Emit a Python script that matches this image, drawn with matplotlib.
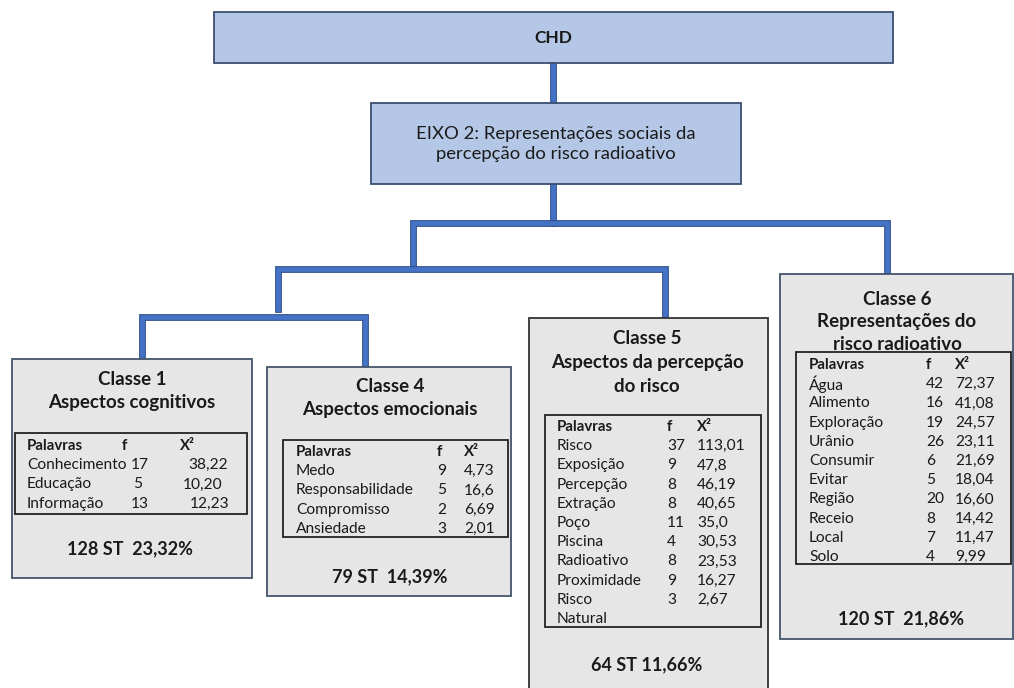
import matplotlib
matplotlib.use("Agg")
import matplotlib.pyplot as plt
from matplotlib.patches import Rectangle
import matplotlib.patheffects as pe

plt.rcParams['font.family'] = ['Lato', 'DejaVu Sans']

# ---------------- data ----------------
root_label = "CHD"
axis_label = "EIXO 2: Representações sociais da\npercepção do risco radioativo"

class1_title = ["Classe 1", "Aspectos cognitivos"]
class1_words = ["Conhecimento", "Educação", "Informação"]
class1_f = ["17", "5", "13"]
class1_chi2 = ["38,22", "10,20", "12,23"]
class1_st = "128 ST  23,32%"

class4_title = ["Classe 4", "Aspectos emocionais"]
class4_words = ["Medo", "Responsabilidade", "Compromisso", "Ansiedade"]
class4_f = ["9", "5", "2", "3"]
class4_chi2 = ["4,73", "16,6", "6,69", "2,01"]
class4_st = "79 ST  14,39%"

class5_title = ["Classe 5", "Aspectos da percepção", "do risco"]
class5_words = ["Risco", "Exposição", "Percepção", "Extração", "Poço", "Piscina",
                "Radioativo", "Proximidade", "Risco", "Natural"]
class5_f = ["37", "9", "8", "8", "11", "4", "8", "9", "3", ""]
class5_chi2 = ["113,01", "47,8", "46,19", "40,65", "35,0", "30,53", "23,53",
               "16,27", "2,67", ""]
class5_st = "64 ST 11,66%"

class6_title = ["Classe 6", "Representações do", "risco radioativo"]
class6_words = ["Água", "Alimento", "Exploração", "Urânio", "Consumir", "Evitar",
                "Região", "Receio", "Local", "Solo"]
class6_f = ["42", "16", "19", "26", "6", "5", "20", "8", "7", "4"]
class6_chi2 = ["72,37", "41,08", "24,57", "23,11", "21,69", "18,04", "16,60",
               "14,42", "11,47", "9,99"]
class6_st = "120 ST  21,86%"

header = ["Palavras", "f", "X²"]

# ---------------- figure ----------------
W, H = 1014, 688
fig = plt.figure(figsize=(W / 100, H / 100), dpi=100)
ax = fig.add_axes([0, 0, 1, 1])
ax.set_xlim(0, W)
ax.set_ylim(H, 0)
ax.axis('off')

BLUE_FILL = '#B4C7E7'
BLUE_EDGE = '#3B4E72'
GRAY_FILL = '#E6E6E6'
CONN = '#4472C4'
CONN_EDGE = '#2F528F'
TXT = '#1A1A1A'


def box(x0, y0, x1, y1, fc, ec, lw=1.3, z=2):
    ax.add_patch(Rectangle((x0, y0), x1 - x0, y1 - y0, facecolor=fc,
                           edgecolor=ec, linewidth=lw, zorder=z))


def conn(xs, ys):
    ax.plot(xs, ys, color=CONN, linewidth=3.4, solid_capstyle='projecting',
            solid_joinstyle='miter', zorder=1,
            path_effects=[pe.Stroke(linewidth=4.9, foreground=CONN_EDGE),
                          pe.Normal()])


# connectors (dendrogram)
conn([553, 553], [63, 103])
conn([553, 553], [184, 223])
conn([413, 413, 887, 887], [264, 223, 223, 274])
conn([278, 278, 665, 665], [309, 269, 269, 317])
conn([142, 142, 365, 365], [358, 317, 317, 367])

# top boxes
box(214, 12, 893, 63, BLUE_FILL, BLUE_EDGE)
ax.text(553, 38, root_label, ha='center', va='center', fontsize=12.5,
        fontweight='bold', color=TXT, zorder=3)
box(371, 103, 741, 184, BLUE_FILL, BLUE_EDGE)
ax.text(556, 144, axis_label, ha='center', va='center', fontsize=13.3,
        color=TXT, linespacing=1.25, zorder=3)


def class_box(rect, title, title_base, title_step, title_cx, table, cols,
              header_y, words, fvals, chi, st, st_cx, st_y, ec, align=None):
    x0, y0, x1, y1 = rect
    box(x0, y0, x1, y1, GRAY_FILL, ec)
    for i, line in enumerate(title):
        ax.text(title_cx, title_base + title_step * i, line, ha='center',
                va='baseline', fontsize=13.5, fontweight='bold', color=TXT,
                zorder=3)
    tx0, ty0, tx1, ty1 = table
    box(tx0, ty0, tx1, ty1, 'none', '#222222', lw=1.3, z=3)
    cw, cf, cc = cols
    step = 19.2
    for hx, h in zip((cw, cf, cc), header):
        ax.text(hx, header_y, h, ha='left', va='center', fontsize=10.8,
                fontweight='bold', color=TXT, zorder=4)
    for i, (w, f, c) in enumerate(zip(words, fvals, chi)):
        y = header_y + step * (i + 1)
        ax.text(cw, y, w, ha='left', va='center', fontsize=11.2, color=TXT,
                zorder=4)
        fx = cf if align is None else align[0][i]
        chx = cc if align is None else align[1][i]
        ax.text(fx, y, f, ha='left', va='center', fontsize=11.2, color=TXT,
                zorder=4)
        ax.text(chx, y, c, ha='left', va='center', fontsize=11.2, color=TXT,
                zorder=4)
    ax.text(st_cx, st_y, st, ha='center', va='center', fontsize=13,
            fontweight='bold', color=TXT, zorder=3)


class_box((12, 359, 252, 578), class1_title, 385, 23.3, 132,
          (15, 433, 247, 514), (27, 122, 180), 446, class1_words, class1_f,
          class1_chi2, class1_st, 130, 549, '#44546A',
          align=([131, 133, 131], [188, 183, 190]))
class_box((267, 367, 511, 596), class4_title, 392, 23.5, 390,
          (283, 440, 508, 537), (296, 437, 464), 452, class4_words, class4_f,
          class4_chi2, class4_st, 390, 577, '#44546A')
class_box((529, 318, 768, 700), class5_title, 344, 23.8, 647,
          (545, 415, 761, 627), (557, 667, 697), 427, class5_words, class5_f,
          class5_chi2, class5_st, 647, 665, '#333333')
class_box((780, 274, 1013, 639), class6_title, 305, 22.3, 897,
          (796, 352, 1011, 564), (809, 926, 955), 365, class6_words, class6_f,
          class6_chi2, class6_st, 901, 619, '#44546A')

fig.savefig("out.png", dpi=100, facecolor='white')
